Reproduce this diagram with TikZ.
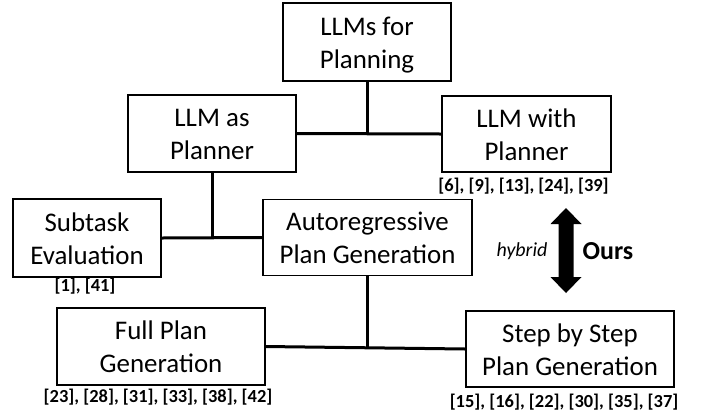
\documentclass[tikz,border=0pt]{standalone}
\usepackage{fontspec}
\setmainfont{Carlito}
\usepackage{tikz}
\usetikzlibrary{positioning}
\tikzset{
    catbox/.style={draw, line width=1.3bp, inner sep=0pt, align=center,
        text height=59bp, text depth=7bp,
        font=\fontsize{27}{33}\selectfont},
    refs/.style={inner sep=0pt, font=\bfseries\fontsize{18.5}{20}\selectfont},
    branch/.style={line width=3bp}
}

\begin{document}
\begin{tikzpicture}[x=1bp,y=-1bp]
		\useasboundingbox (0,0) rectangle (701,416);

		% categories
		\node[catbox, minimum width=168bp, minimum height=78bp] (root) at (367,42) {LLMs for\\Planning};
		\node[catbox, minimum width=168bp, minimum height=77bp] (asplanner) at (212,133.5) {LLM as\\Planner};
		\node[catbox, minimum width=169bp, minimum height=76bp] (withplanner) at (526.5,134) {LLM with\\Planner};
		\node[catbox, minimum width=148bp, minimum height=78bp] (subtask) at (87,238) {Subtask\\Evaluation};
		\node[catbox, minimum width=209bp, minimum height=76bp] (autoreg) at (367.5,237.5) {Autoregressive\\Plan Generation};
		\node[catbox, minimum width=208bp, minimum height=77bp] (fullplan) at (161,346.5) {Full Plan\\Generation};
		\node[catbox, minimum width=208bp, minimum height=76bp] (stepplan) at (570,349) {Step by Step\\Plan Generation};

		% citations
		\node[refs, below=5bp of withplanner, xshift=-3bp] (withrefs) {[6], [9], [13], [24], [39]};
		\node[refs, below=0.5bp of subtask, xshift=-2bp] (subrefs) {[1], [41]};
		\node[refs, below=3bp of fullplan, xshift=-3bp] (fullrefs) {[23], [28], [31], [33], [38], [42]};
		\node[refs, below=6bp of stepplan, xshift=-6bp] (steprefs) {[15], [16], [22], [30], [35], [37]};

		% tree lines
		\draw[branch] (asplanner.east) -- (withplanner.west);
		\draw[branch] (root.south) -- (root.south |- asplanner.east);
		\draw[branch] (subtask.east) -- (autoreg.west);
		\draw[branch] (asplanner.south) -- (asplanner.south |- subtask.east);
		\draw[branch] (fullplan.east) -- (stepplan.west);
		\draw[branch] (autoreg.south) -- (autoreg.south |- fullplan.east);

		% hybrid arrow
		\coordinate (hyb) at (566,250.5);
		\fill[shift={(hyb)}] (0,-42.5) -- (15.5,-26.5) -- (7.5,-26.5) -- (7.5,26.5) -- (15.5,26.5)
         -- (0,42.5) -- (-15.5,26.5) -- (-7.5,26.5) -- (-7.5,-26.5) -- (-15.5,-26.5) -- cycle;
		\node[font=\itshape\fontsize{20}{24}\selectfont] (hybrid) at (522,251) {hybrid};
		\node[font=\bfseries\fontsize{26}{30}\selectfont] (ours) at (608,251) {Ours};
\end{tikzpicture}
\end{document}
